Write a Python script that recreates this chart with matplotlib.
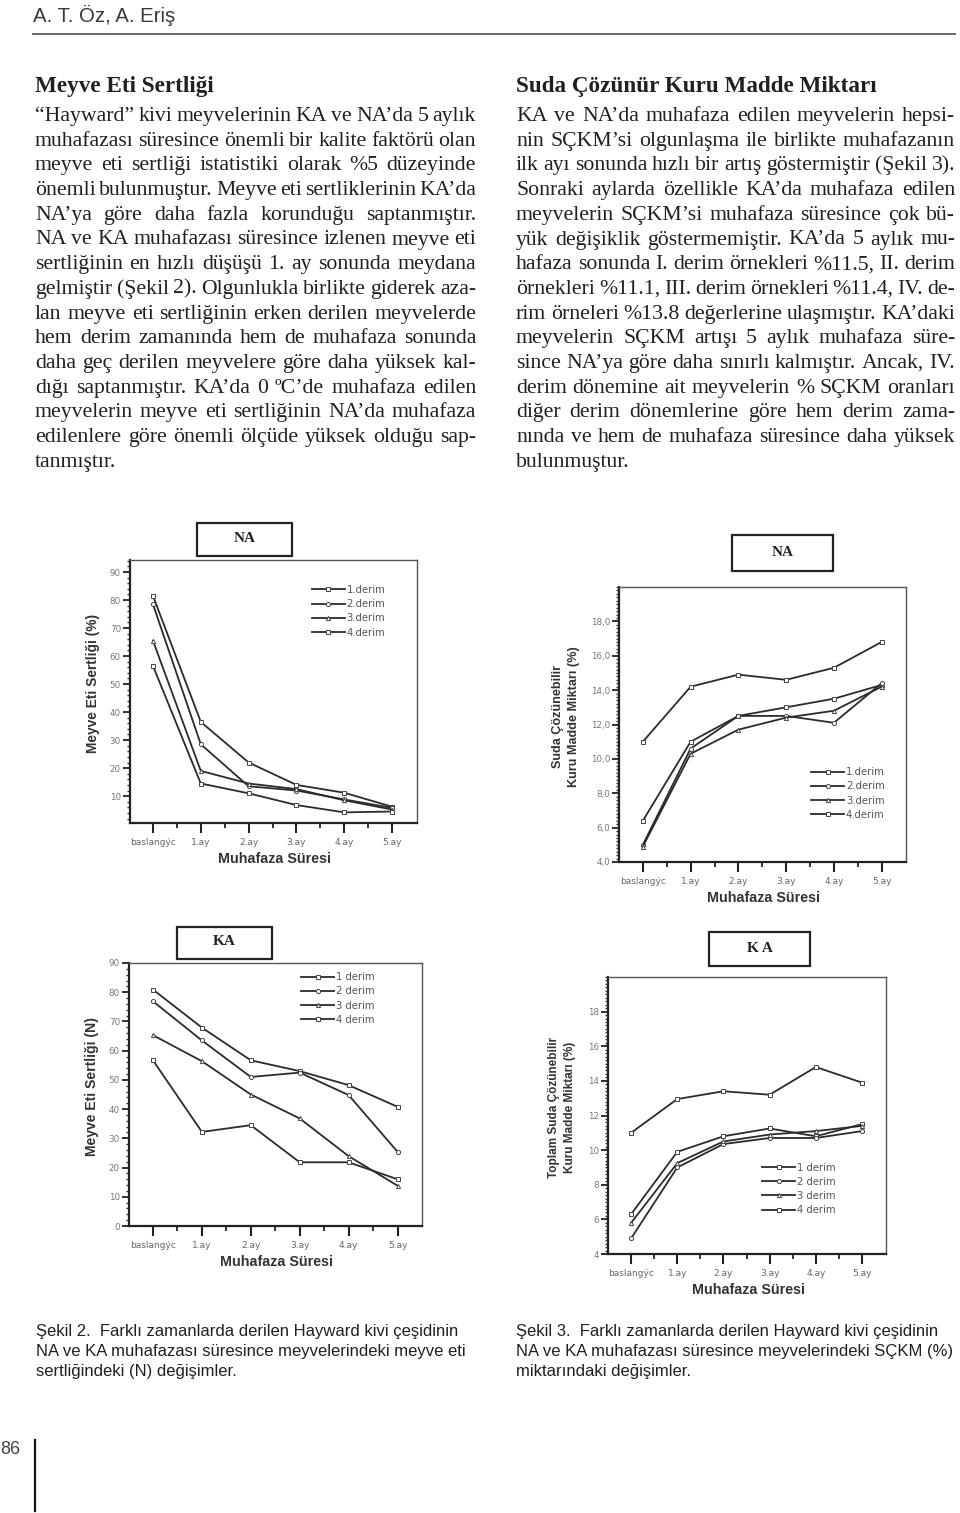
import matplotlib
matplotlib.use("Agg")
import matplotlib.pyplot as plt
from matplotlib.ticker import AutoMinorLocator
from matplotlib.patches import Rectangle

# ---- page text ----
header = "A. T. Öz, A. Eriş"
left_heading = "Meyve Eti Sertliği"
right_heading = "Suda Çözünür Kuru Madde Miktarı"

left_lines = [
    "“Hayward” kivi meyvelerinin KA ve NA’da 5 aylık",
    "muhafazası süresince önemli bir kalite faktörü olan",
    "meyve eti sertliği istatistiki olarak %5 düzeyinde",
    "önemli bulunmuştur. Meyve eti sertliklerinin KA’da",
    "NA’ya göre daha fazla korunduğu saptanmıştır.",
    "NA ve KA muhafazası süresince izlenen meyve eti",
    "sertliğinin en hızlı düşüşü 1. ay sonunda meydana",
    "gelmiştir (Şekil 2). Olgunlukla birlikte giderek aza-",
    "lan meyve eti sertliğinin erken derilen meyvelerde",
    "hem derim zamanında hem de muhafaza sonunda",
    "daha geç derilen meyvelere göre daha yüksek kal-",
    "dığı saptanmıştır. KA’da 0 ºC’de muhafaza edilen",
    "meyvelerin meyve eti sertliğinin NA’da muhafaza",
    "edilenlere göre önemli ölçüde yüksek olduğu sap-",
    "tanmıştır.",
]
right_lines = [
    "KA ve NA’da muhafaza edilen meyvelerin hepsi-",
    "nin SÇKM’si olgunlaşma ile birlikte muhafazanın",
    "ilk ayı sonunda hızlı bir artış göstermiştir (Şekil 3).",
    "Sonraki aylarda özellikle KA’da muhafaza edilen",
    "meyvelerin SÇKM’si muhafaza süresince çok bü-",
    "yük değişiklik göstermemiştir. KA’da 5 aylık mu-",
    "hafaza sonunda I. derim örnekleri %11.5, II. derim",
    "örnekleri %11.1, III. derim örnekleri %11.4, IV. de-",
    "rim örneleri %13.8 değerlerine ulaşmıştır. KA’daki",
    "meyvelerin SÇKM artışı 5 aylık muhafaza süre-",
    "since NA’ya göre daha sınırlı kalmıştır. Ancak, IV.",
    "derim dönemine ait meyvelerin % SÇKM oranları",
    "diğer derim dönemlerine göre hem derim zama-",
    "nında ve hem de muhafaza süresince daha yüksek",
    "bulunmuştur.",
]
caption_left = ["Şekil 2.  Farklı zamanlarda derilen Hayward kivi çeşidinin",
                "NA ve KA muhafazası süresince meyvelerindeki meyve eti",
                "sertliğindeki (N) değişimler."]
caption_right = ["Şekil 3.  Farklı zamanlarda derilen Hayward kivi çeşidinin",
                 "NA ve KA muhafazası süresince meyvelerindeki SÇKM (%)",
                 "miktarındaki değişimler."]
page_no = "86"

# ---- chart data ----
months = ["baslangýc", "1.ay", "2.ay", "3.ay", "4.ay", "5.ay"]

na_firm_1 = [81.5, 36.5, 22.0, 14.0, 11.2, 6.2]
na_firm_2 = [78.5, 28.5, 13.5, 12.0, 8.8, 5.8]
na_firm_3 = [65.5, 19.0, 14.5, 12.5, 8.5, 5.2]
na_firm_4 = [56.5, 14.5, 11.0, 6.8, 4.2, 4.5]

na_sckm_1 = [6.4, 11.0, 12.5, 13.0, 13.5, 14.3]
na_sckm_2 = [5.0, 10.6, 12.5, 12.5, 12.1, 14.4]
na_sckm_3 = [4.9, 10.3, 11.7, 12.4, 12.8, 14.2]
na_sckm_4 = [11.0, 14.2, 14.9, 14.6, 15.3, 16.8]

ka_firm_1 = [80.9, 67.9, 56.7, 53.0, 48.2, 40.8]
ka_firm_2 = [76.9, 63.5, 51.0, 52.5, 44.8, 25.4]
ka_firm_3 = [65.3, 56.4, 45.0, 36.8, 23.9, 13.8]
ka_firm_4 = [56.7, 32.2, 34.5, 21.8, 21.8, 16.0]

ka_sckm_1 = [6.3, 9.9, 10.8, 11.25, 10.8, 11.5]
ka_sckm_2 = [4.9, 9.0, 10.35, 10.7, 10.7, 11.1]
ka_sckm_3 = [5.8, 9.25, 10.5, 10.9, 11.1, 11.4]
ka_sckm_4 = [11.0, 12.95, 13.4, 13.2, 14.8, 13.9]

W, H = 960, 1513
fig = plt.figure(figsize=(9.6, 15.13), dpi=100)
renderer = fig.canvas.get_renderer()

SERIF = ["Liberation Serif", "DejaVu Serif"]
SANS = ["Liberation Sans", "DejaVu Sans"]
NARROW = ["Liberation Sans Narrow", "Liberation Sans", "DejaVu Sans"]
INK = "#231f20"


def fx(x):
    return x / W


def fy(y):
    return 1 - y / H


def twidth(s, size, family, weight="normal"):
    t = fig.text(0, 0, s, fontsize=size, family=family, weight=weight)
    w = t.get_window_extent(renderer).width
    t.remove()
    return w


def fit(s, target, family, weight="normal"):
    return 10 * target / twidth(s, 10, family, weight)


def body_size(lines, colw, family):
    sp = twidth("a a", 10, family) - twidth("aa", 10, family)
    best = 0
    for line in lines[:-1]:
        words = line.split()
        nat = sum(twidth(w, 10, family) for w in words) + (len(words) - 1) * sp * 0.62
        best = max(best, nat)
    return 10 * colw / best


def justify(lines, x0, x1, base0, dy, size, family):
    sp = twidth("a a", size, family) - twidth("aa", size, family)
    for i, line in enumerate(lines):
        words = line.split()
        widths = [twidth(w, size, family) for w in words]
        if i == len(lines) - 1 or len(words) == 1:
            gap = sp
        else:
            gap = (x1 - x0 - sum(widths)) / (len(words) - 1)
        x = x0
        for w, wd in zip(words, widths):
            fig.text(fx(x), fy(base0 + i * dy), w, fontsize=size, family=family,
                     va="baseline", color=INK)
            x += wd + gap


# header
fig.text(fx(33), fy(22), header, fontsize=fit(header, 142, NARROW), family=NARROW,
         color="#3a3a3a", va="baseline")
fig.add_artist(plt.Line2D([fx(33), fx(955)], [fy(34), fy(34)], color="#666666", lw=1.4))

# headings
hs = fit(left_heading, 180, SERIF, "bold")
fig.text(fx(35), fy(92), left_heading, fontsize=hs, family=SERIF, weight="bold",
         color=INK, va="baseline")
fig.text(fx(516), fy(92), right_heading, fontsize=hs, family=SERIF, weight="bold",
         color=INK, va="baseline")

# body text
bs = min(body_size(left_lines, 441, SERIF), body_size(right_lines, 439, SERIF))
justify(left_lines, 35, 476, 121, 24.7, bs, SERIF)
justify(right_lines, 516, 955, 121, 24.7, bs, SERIF)


def chart(px, title, title_px, series, labels, ylim, yticks, yfmt, yminor,
          ylabel, ylab_x, leg_xy, xlim):
    l, r, t, b = px
    ax = fig.add_axes([fx(l), fy(b), (r - l) / W, (b - t) / H])
    x = list(range(len(months)))
    marks = ["s", "o", "^", "s"]
    for s, lab, m in zip(series, labels, marks):
        ax.plot(x, s, color="#2b2b2b", lw=1.3, marker=m, ms=3, mfc="white",
                mec="#444444", mew=0.7, label=lab)
    ax.set_xlim(*xlim)
    ax.set_ylim(*ylim)
    ax.set_xticks(x)
    ax.set_xticklabels(months)
    ax.set_xticks([i + 0.5 for i in x[:-1]], minor=True)
    ax.set_yticks(yticks)
    ax.set_yticklabels([yfmt(v) for v in yticks])
    ax.yaxis.set_minor_locator(AutoMinorLocator(yminor))
    ax.tick_params(axis="x", which="major", direction="out", length=7, width=1.5,
                   labelsize=6.5, labelcolor="#666666", pad=4, color="#222222")
    ax.tick_params(axis="x", which="minor", direction="out", length=3.5, width=1.3,
                   color="#222222")
    ax.tick_params(axis="y", which="major", direction="out", length=5, width=1.3,
                   labelsize=6.3, labelcolor="#777777", pad=1.5, color="#222222")
    ax.tick_params(axis="y", which="minor", direction="out", length=2.2, width=1.0,
                   color="#333333")
    for sp in ["left", "bottom"]:
        ax.spines[sp].set_linewidth(1.6)
        ax.spines[sp].set_color("#222222")
    for sp in ["top", "right"]:
        ax.spines[sp].set_linewidth(1.0)
        ax.spines[sp].set_color("#555555")
    leg = ax.legend(loc="upper left", bbox_to_anchor=leg_xy, frameon=False,
                    fontsize=7.2, handlelength=3.3, handletextpad=0.15,
                    labelspacing=0.42, borderpad=0, borderaxespad=0, numpoints=1)
    for txt in leg.get_texts():
        txt.set_color("#555555")

    # title box
    bl, br, bt, bb = title_px
    fig.add_artist(Rectangle((fx(bl), fy(bb)), (br - bl) / W, (bb - bt) / H,
                             transform=fig.transFigure, fill=False,
                             edgecolor="#222222", lw=1.6))
    fig.text(fx((bl + br) / 2), fy((bt + bb) / 2 - 1), title, fontsize=11,
             family=SERIF, weight="bold", ha="center", va="center", color="#222222")

    # axis titles
    xl = "Muhafaza Süresi"
    fig.text(fx((l + r) / 2 + 1), fy(b + 36), xl, fontsize=fit(xl, 112, SANS, "bold"),
             family=SANS, weight="bold", ha="center", va="center", color="#333333")
    longest = max(ylabel.split("\n"), key=len)
    fig.text(fx(ylab_x), fy((t + b) / 2 - 8), ylabel,
             fontsize=fit(longest, 140, SANS, "bold"), family=SANS, weight="bold",
             rotation=90, ha="center", va="center", linespacing=1.45,
             color="#333333", multialignment="center")
    return ax


derim_a = ["1.derim", "2.derim", "3.derim", "4.derim"]
derim_b = ["1 derim", "2 derim", "3 derim", "4 derim"]

chart((130, 417, 560, 823), "NA", (197, 292, 523, 556),
      [na_firm_1, na_firm_2, na_firm_3, na_firm_4], derim_a,
      (0.4, 94.3), list(range(10, 100, 10)), lambda v: f"{v}", 5,
      "Meyve Eti Sertliği (%)", 93, (0.634, 0.905), (-0.48, 5.52))

chart((619, 906, 587, 862), "NA", (732, 833, 535, 571),
      [na_sckm_1, na_sckm_2, na_sckm_3, na_sckm_4], derim_a,
      (4, 20), list(range(4, 20, 2)), lambda v: f"{v},0", 10,
      "Suda Çözünebilir\nKuru Madde Miktarı (%)", 566, (0.67, 0.345), (-0.5, 5.51))

chart((129, 422, 963, 1226), "KA", (177, 272, 927, 959),
      [ka_firm_1, ka_firm_2, ka_firm_3, ka_firm_4], derim_b,
      (0, 90), list(range(0, 100, 10)), lambda v: f"{v}", 5,
      "Meyve Eti Sertliği (N)", 92, (0.588, 0.965), (-0.49, 5.5))

chart((608, 886, 977, 1254), "K A", (709, 810, 932, 966),
      [ka_sckm_1, ka_sckm_2, ka_sckm_3, ka_sckm_4], derim_b,
      (4, 20), list(range(4, 20, 2)), lambda v: f"{v}", 10,
      "Toplam Suda Çözünebilir\nKuru Madde Miktarı (%)", 562, (0.555, 0.33), (-0.5, 5.52))

# captions
cs = fit(caption_right[1], 436, NARROW)
for i, line in enumerate(caption_left):
    fig.text(fx(36), fy(1336 + i * 20), line, fontsize=cs, family=NARROW,
             va="baseline", color=INK)
for i, line in enumerate(caption_right):
    fig.text(fx(516), fy(1336 + i * 20), line, fontsize=cs, family=NARROW,
             va="baseline", color=INK)

# page number and rule
fig.text(fx(0), fy(1454), page_no, fontsize=13, family=NARROW, color="#444444",
         va="baseline")
fig.add_artist(plt.Line2D([fx(35), fx(35)], [fy(1440), fy(1511)], color="#111111", lw=1.6))

fig.savefig("out.png", dpi=100, facecolor="white")
